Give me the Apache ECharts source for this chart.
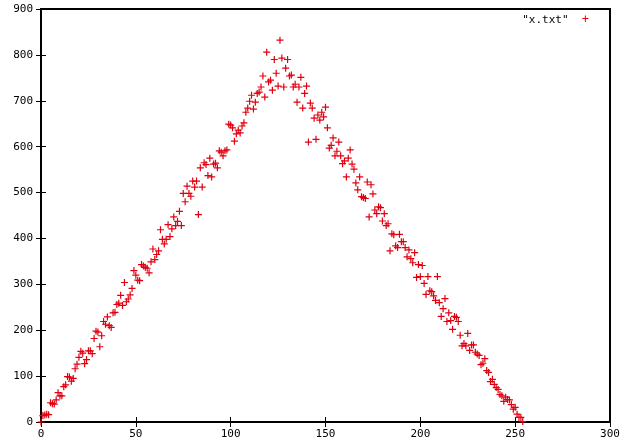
<!DOCTYPE html>
<html>
<head>
<meta charset="utf-8">
<script src="https://cdn.jsdelivr.net/npm/echarts@6/dist/echarts.min.js"></script>
<style>
html,body{margin:0;padding:0;background:#fff;}
#chart{width:624px;height:446px;}
</style>
</head>
<body>
<div id="chart"></div>
<script>
// Single-column data file "x.txt": value per line, x = line index
const seriesName = '"x.txt"';
const yValues = [
  0,14,15,17,16,42,40,39,48,64,
  57,57,77,81,99,98,89,95,116,126,
  141,154,150,127,136,155,155,149,182,198,
  196,164,188,219,213,229,210,206,238,239,
  256,259,276,254,304,262,268,277,291,330,
  320,309,308,343,340,337,335,325,349,377,
  354,365,373,419,398,388,398,430,404,421,
  447,428,437,459,428,498,480,514,498,492,
  525,512,525,452,554,512,565,561,537,575,
  534,562,564,554,591,588,580,591,593,649,
  647,641,612,628,636,630,645,652,675,684,
  699,712,682,697,716,719,730,754,708,806,
  741,745,723,790,760,732,832,793,730,771,
  790,754,756,730,736,697,730,751,684,716,
  732,610,695,684,662,616,669,658,675,665,
  686,641,597,603,619,580,590,610,580,563,
  569,534,575,593,562,551,521,506,534,491,
  489,487,523,447,517,497,462,454,469,467,
  438,454,428,432,373,410,408,384,380,409,
  393,393,380,360,375,356,347,369,315,343,
  317,341,302,278,317,286,284,275,265,317,
  260,230,247,269,219,238,221,202,230,228,
  219,189,166,171,166,193,156,168,168,152,
  148,145,125,128,138,112,108,88,93,82,
  75,71,60,57,45,54,49,48,38,28,
  32,17,10,10,1
];
const xTicks = [0, 300, 50];   // min, max, interval
const yTicks = [0, 900, 100];

const points = yValues.map((v, i) => [i, v]);
const plus = 'path://M0,2.9H2.9V0H4.1V2.9H7V4.1H4.1V7H2.9V4.1H0Z';
const red = '#e00010';
const font = {fontFamily: 'DejaVu Sans Mono', fontSize: 11, color: '#000'};

const chart = echarts.init(document.getElementById('chart'), null, {renderer: 'canvas'});
const tick = {show: true, inside: true, length: 5, lineStyle: {color: '#000', width: 1}};
chart.setOption({
  animation: false,
  backgroundColor: '#fff',
  color: [red],
  grid: {left: 41, right: 14, top: 9, bottom: 24, show: true, borderColor: '#000', borderWidth: 2},
  legend: {
    right: 30, top: 14, padding: 0, align: 'right',
    itemWidth: 0, itemHeight: 0,
    data: [{name: seriesName, icon: 'none'}],
    formatter: name => name + '  {p|+}',
    textStyle: Object.assign({}, font, {
      rich: {p: {color: red, fontFamily: 'DejaVu Sans Mono', fontSize: 12}}
    })
  },
  xAxis: [
    {type: 'value', position: 'bottom', min: xTicks[0], max: xTicks[1], interval: xTicks[2],
     axisLine: {show: false}, axisTick: tick, splitLine: {show: false},
     axisLabel: Object.assign({margin: 7}, font)},
    {type: 'value', position: 'top', min: xTicks[0], max: xTicks[1], interval: xTicks[2],
     axisLine: {show: false}, axisTick: tick, splitLine: {show: false}, axisLabel: {show: false}}
  ],
  yAxis: [
    {type: 'value', position: 'left', min: yTicks[0], max: yTicks[1], interval: yTicks[2],
     axisLine: {show: false}, axisTick: tick, splitLine: {show: false},
     axisLabel: Object.assign({margin: 8}, font)},
    {type: 'value', position: 'right', min: yTicks[0], max: yTicks[1], interval: yTicks[2],
     axisLine: {show: false}, axisTick: tick, splitLine: {show: false}, axisLabel: {show: false}}
  ],
  series: [{
    name: seriesName,
    type: 'scatter',
    xAxisIndex: 0, yAxisIndex: 0,
    symbol: plus,
    symbolSize: 7,
    clip: false,
    itemStyle: {color: red, borderColor: red, borderWidth: 0, opacity: 1},
    data: points
  }]
});
</script>
</body>
</html>
